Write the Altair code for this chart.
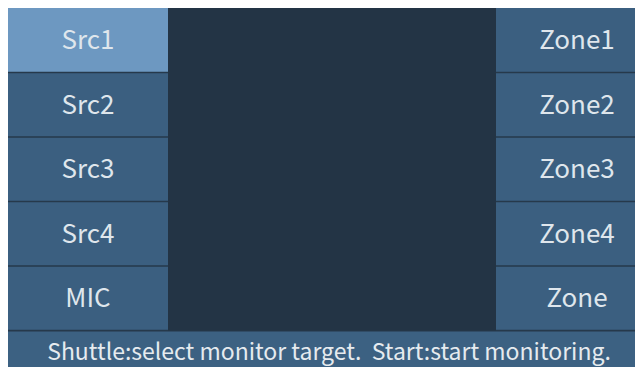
import altair as alt
import pandas as pd

# ---- content ----
left_labels = ["Src1", "Src2", "Src3", "Src4", "MIC"]
right_labels = ["Zone1", "Zone2", "Zone3", "Zone4", "Zone"]
selected_label = "Src1"
status_text = "Shuttle:select monitor target.\u00a0 Start:start monitoring."

# ---- layout (plot units = px inside the plot area) ----
W, H = 627, 359
COLS = {"left": (0, 160), "right": (488, 650)}
MID = (160, 488)
ROW_H = 64.5
GAP = 1.5
STATUS = (323.5, 370)

cells = []
for col, labels in (("left", left_labels), ("right", right_labels)):
    x0, x1 = COLS[col]
    for i, lab in enumerate(labels):
        y0 = i * ROW_H
        cells.append({
            "label": lab,
            "x0": x0, "x1": x1,
            "y0": y0 + (0 if i == 0 else GAP / 2),
            "y1": y0 + ROW_H - GAP / 2,
            "xc": (x0 + x1) / 2,
            "yc": y0 + ROW_H / 2 + 1,
            "state": "selected" if lab == selected_label else "normal",
        })
cells_df = pd.DataFrame(cells)

mid_df = pd.DataFrame([{"x0": MID[0], "x1": MID[1], "y0": 0, "y1": 5 * ROW_H}])
status_df = pd.DataFrame([{"x0": 0, "x1": 650, "y0": STATUS[0], "y1": STATUS[1],
                           "xc": 321, "yc": 345, "text": status_text}])

xs = alt.Scale(domain=[0, W], nice=False, zero=False)
ys = alt.Scale(domain=[0, H], nice=False, zero=False, reverse=True)

def X(f):
    return alt.X(f, type="quantitative", scale=xs, axis=None)

def Y(f):
    return alt.Y(f, type="quantitative", scale=ys, axis=None)

buttons = alt.Chart(cells_df).mark_rect(clip=True).encode(
    x=X("x0"), x2="x1", y=Y("y0"), y2="y1",
    color=alt.Color("state:N", legend=None,
                    scale=alt.Scale(domain=["selected", "normal"],
                                    range=["#6d98c1", "#3b5f80"])),
)

middle = alt.Chart(mid_df).mark_rect(color="#233445").encode(
    x=X("x0"), x2="x1", y=Y("y0"), y2="y1")

status_bg = alt.Chart(status_df).mark_rect(color="#3c6182", clip=True).encode(
    x=X("x0"), x2="x1", y=Y("y0"), y2="y1")

labels = alt.Chart(cells_df).mark_text(
    font="Noto Sans CJK SC", fontSize=26, color="#dfe6ec", align="center", baseline="middle"
).encode(x=X("xc"), y=Y("yc"), text="label:N")

status = alt.Chart(status_df).mark_text(
    font="Noto Sans CJK SC", fontSize=23, color="#e6ebef", align="center", baseline="middle"
).encode(x=X("xc"), y=Y("yc"), text="text:N")

chart = alt.layer(middle, buttons, status_bg, labels, status).properties(
    width=W, height=H,
    padding=0,
    autosize=alt.AutoSizeParams(type="none"),
    background="#26394b",
).configure_view(stroke=None)

chart.save("out.html", embed_options={"renderer": "svg", "actions": False})
